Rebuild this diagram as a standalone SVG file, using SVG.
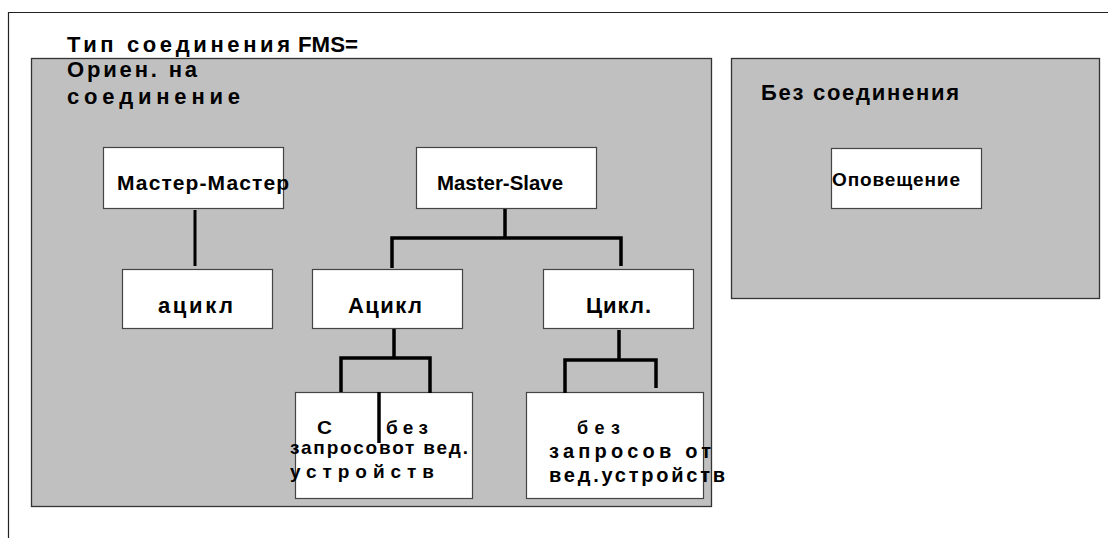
<svg xmlns="http://www.w3.org/2000/svg" width="1108" height="538" viewBox="0 0 1108 538">
  <style>
    .frame { fill: none; stroke: #222; stroke-width: 1.2; }
    .area { fill: #c0c0c0; stroke: #333; stroke-width: 1.3; }
    .box { fill: #fff; stroke: #444; stroke-width: 1.2; }
    .wire { fill: none; stroke: #000; stroke-width: 3.5; stroke-linecap: butt; }
    text { font-family: "Liberation Sans", Arial, sans-serif; font-weight: bold; fill: #000; }
    .t22 { font-size: 22px; }
    .t21 { font-size: 21px; }
    .t20 { font-size: 20px; }
    .t19 { font-size: 19px; }
    .t18 { font-size: 18px; }
  </style>

  <!-- page frame (top and left edges) -->
  <path class="frame" d="M1108 12.5 H8.5 V538"/>

  <!-- connection-oriented area -->
  <g id="area-connection">
    <rect class="area" x="31.5" y="58.5" width="680" height="448"/>
    <text class="t22" x="67" y="51.5" textLength="223" lengthAdjust="spacing">Тип соединения</text>
    <text class="t22" x="298" y="51.5" textLength="60" lengthAdjust="spacingAndGlyphs">FMS=</text>
    <text class="t22" x="67" y="77" textLength="130" lengthAdjust="spacing">Ориен. на</text>
    <text class="t22" x="67" y="104" textLength="173" lengthAdjust="spacing">соединение</text>
  </g>

  <!-- connectionless area -->
  <g id="area-connectionless">
    <rect class="area" x="731.5" y="58.5" width="368" height="240"/>
    <text class="t22" x="761" y="100" textLength="198" lengthAdjust="spacing">Без соединения</text>
  </g>

  <g id="node-broadcast">
    <rect class="box" x="831.5" y="148.5" width="150" height="60"/>
    <text class="t19" x="832" y="186" textLength="128" lengthAdjust="spacing">Оповещение</text>
  </g>

  <g id="node-master-master">
    <rect class="box" x="103.5" y="147.5" width="180" height="61"/>
    <text class="t21" x="117" y="190" textLength="172" lengthAdjust="spacing">Мастер-Мастер</text>
  </g>

  <g id="node-master-slave">
    <rect class="box" x="416.5" y="147.5" width="180" height="61"/>
    <text class="t21" x="437" y="190" textLength="126" lengthAdjust="spacingAndGlyphs">Master-Slave</text>
  </g>

  <g id="node-mm-acyclic">
    <rect class="box" x="122.5" y="269.5" width="150" height="59"/>
    <text class="t22" x="158" y="313" textLength="75" lengthAdjust="spacing">ацикл</text>
  </g>

  <g id="node-ms-acyclic">
    <rect class="box" x="312.5" y="269.5" width="150" height="59"/>
    <text class="t22" x="348" y="313" textLength="74" lengthAdjust="spacing">Ацикл</text>
  </g>

  <g id="node-ms-cyclic">
    <rect class="box" x="543.5" y="269.5" width="150" height="59"/>
    <text class="t22" x="586" y="313" textLength="65" lengthAdjust="spacing">Цикл.</text>
  </g>

  <g id="node-acyclic-requests">
    <rect class="box" x="295.5" y="392.5" width="177" height="106"/>
    <text class="t19" x="317" y="434" textLength="15" lengthAdjust="spacingAndGlyphs">С</text>
    <text class="t19" x="386" y="434" textLength="42" lengthAdjust="spacing">без</text>
    <text class="t19" x="290" y="454" textLength="178" lengthAdjust="spacing">запросовот вед.</text>
    <text class="t19" x="290" y="478" textLength="144" lengthAdjust="spacing">устройств</text>
  </g>

  <g id="node-cyclic-no-requests">
    <rect class="box" x="526.5" y="392.5" width="177" height="106"/>
    <text class="t18" x="577" y="434" textLength="43" lengthAdjust="spacing">без</text>
    <text class="t20" x="549" y="458" textLength="162" lengthAdjust="spacing">запросов от</text>
    <text class="t20" x="549" y="482" textLength="176" lengthAdjust="spacing">вед.устройств</text>
  </g>

  <!-- tree connectors -->
  <g id="connectors">
    <path class="wire" style="stroke-width:3" d="M195 210 V266"/>
    <path class="wire" d="M505 209 V238"/>
    <path class="wire" d="M392 268 V238 H621 V266"/>
    <path class="wire" d="M394 329 V358"/>
    <path class="wire" d="M341 392 V358 H430 V393"/>
    <path class="wire" d="M379 392 V443"/>
    <path class="wire" d="M619 330 V360"/>
    <path class="wire" d="M565 393 V360 H656 V388"/>
  </g>
</svg>
